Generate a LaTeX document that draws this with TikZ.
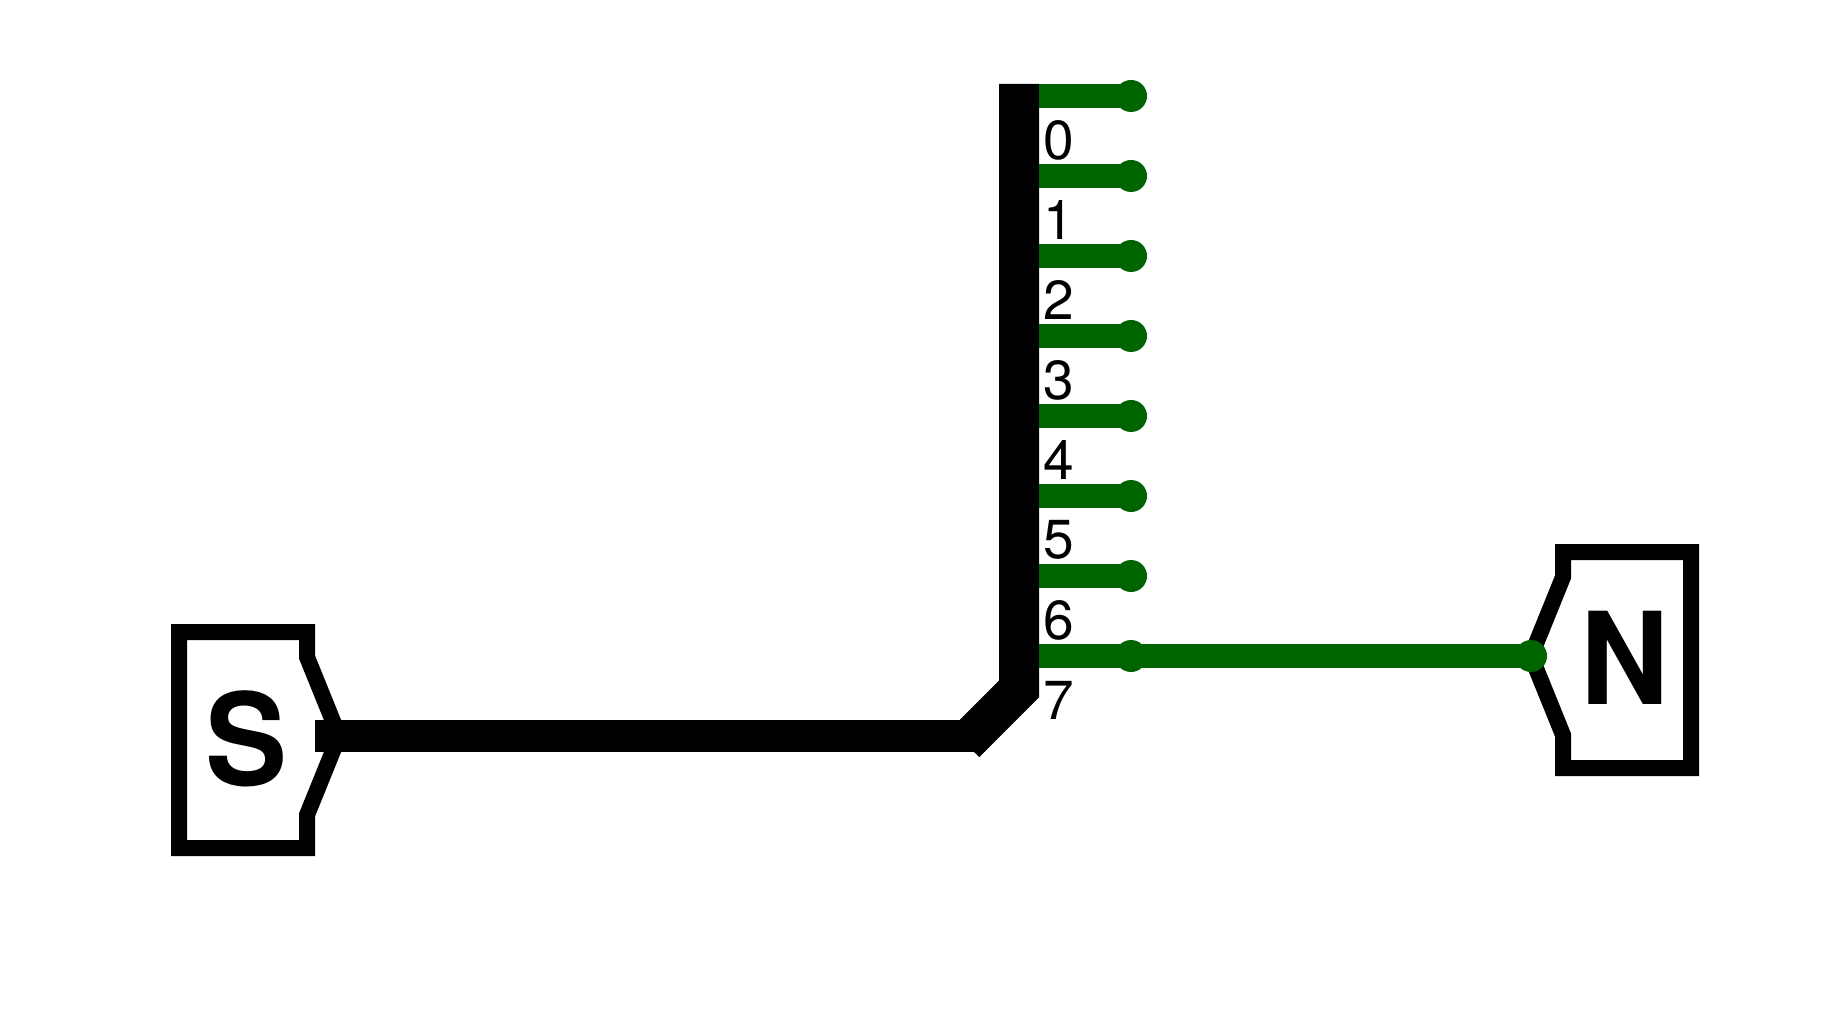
\documentclass[tikz,border=0pt]{standalone}
\usepackage{xcolor}
\usepackage{fontspec}
\setmainfont{TeX Gyre Heros}
\newfontfamily\boxfont[FakeStretch=0.96]{TeX Gyre Heros}
\usetikzlibrary{arrows.meta}
\definecolor{stubgreen}{RGB}{0,100,0}
\tikzset{
  sourcebox/.style={draw=black,line width=8pt,miter limit=10},
  busline/.style={draw=black,line width=20pt,miter limit=10},
  wireline/.style={draw=black,line width=16pt},
  stubline/.style={draw=stubgreen,line width=12pt},
  stubdot/.style={fill=stubgreen},
  pinlabel/.style={inner sep=0pt,font=\fontsize{27.5}{28}\selectfont},
  boxlabel/.style={inner sep=0pt,font=\fontsize{64}{64}\boxfont\bfseries},
}

\begin{document}
\begin{tikzpicture}[x=0.5pt,y=-0.5pt]
      \useasboundingbox (0,0) rectangle (1836,1021);
      % bus and wire
      \coordinate (wirestart) at (315,736);
      \coordinate (wireend) at (985,736);
      \coordinate (bustop) at (1019,84);
      \coordinate (busbend) at (1019,689);
      \coordinate (busend) at (965,743);
      \coordinate (stubroot0) at (1039,96);
      \coordinate (stubroot1) at (1039,176);
      \coordinate (stubroot2) at (1039,256);
      \coordinate (stubroot3) at (1039,336);
      \coordinate (stubroot4) at (1039,416);
      \coordinate (stubroot5) at (1039,496);
      \coordinate (stubroot6) at (1039,576);
      \coordinate (stubroot7) at (1039,656);
      \coordinate (stubtip0) at (1131,96);
      \coordinate (stubtip1) at (1131,176);
      \coordinate (stubtip2) at (1131,256);
      \coordinate (stubtip3) at (1131,336);
      \coordinate (stubtip4) at (1131,416);
      \coordinate (stubtip5) at (1131,496);
      \coordinate (stubtip6) at (1131,576);
      \coordinate (stubtip7) at (1131,656);
      \coordinate (northtip) at (1531,656);
      % S box
      \draw[sourcebox] (179,632) -- (307,632) -- (307,657) -- (339,736) -- (307,815) -- (307,848) -- (179,848) -- cycle;
      \node[boxlabel] (southlabel) at (246,739) {S};
      % N box
      \draw[sourcebox] (1691,552) -- (1563,552) -- (1563,577) -- (northtip) -- (1563,735) -- (1563,768) -- (1691,768) -- cycle;
      \node[boxlabel] (northlabel) at (1625,658) {N};
      \draw[wireline] (wirestart) -- (wireend);
      \draw[busline] (bustop) -- (busbend) -- (busend);
      \draw[stubline] (stubroot0) -- (stubtip0);
      \draw[stubline] (stubroot1) -- (stubtip1);
      \draw[stubline] (stubroot2) -- (stubtip2);
      \draw[stubline] (stubroot3) -- (stubtip3);
      \draw[stubline] (stubroot4) -- (stubtip4);
      \draw[stubline] (stubroot5) -- (stubtip5);
      \draw[stubline] (stubroot6) -- (stubtip6);
      \draw[stubline] (stubroot7) -- (northtip);
      \fill[stubdot] (stubtip0) circle(16);
      \fill[stubdot] (stubtip1) circle(16);
      \fill[stubdot] (stubtip2) circle(16);
      \fill[stubdot] (stubtip3) circle(16);
      \fill[stubdot] (stubtip4) circle(16);
      \fill[stubdot] (stubtip5) circle(16);
      \fill[stubdot] (stubtip6) circle(16);
      \fill[stubdot] (stubtip7) circle(16);
      \fill[stubdot] (northtip) circle(16);
      \node[pinlabel] (pin0) at (1059,140) {0};
      \node[pinlabel] (pin1) at (1059,220) {1};
      \node[pinlabel] (pin2) at (1059,300) {2};
      \node[pinlabel] (pin3) at (1059,380) {3};
      \node[pinlabel] (pin4) at (1059,460) {4};
      \node[pinlabel] (pin5) at (1059,540) {5};
      \node[pinlabel] (pin6) at (1059,620) {6};
      \node[pinlabel] (pin7) at (1059,700) {7};
    \end{tikzpicture}
\end{document}
